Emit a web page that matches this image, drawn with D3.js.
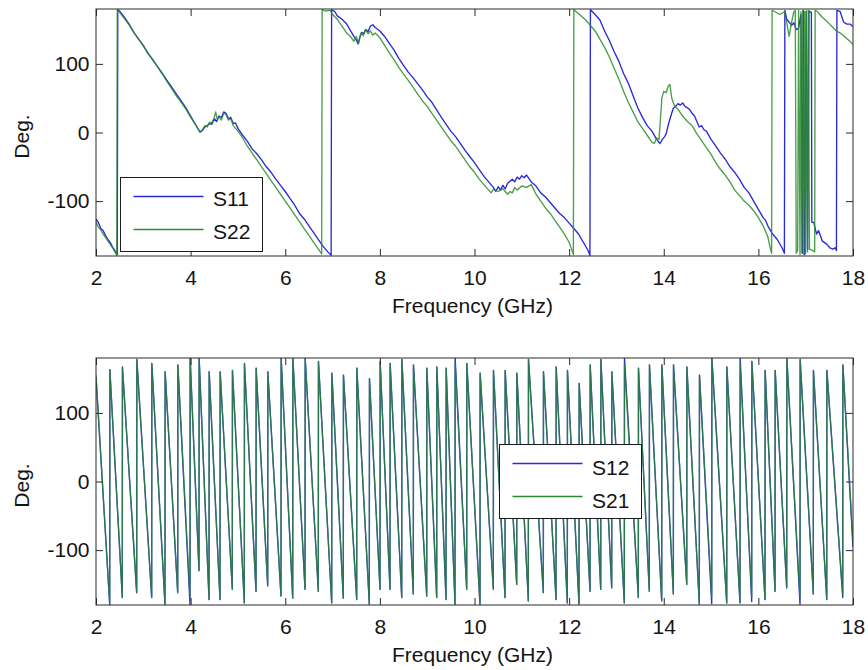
<!DOCTYPE html>
<html>
<head>
<meta charset="utf-8">
<script src="https://cdn.jsdelivr.net/npm/d3@7"></script>
<style>
  body { margin: 0; background: #fff; }
  svg { display: block; }
  text { font-family: "Liberation Sans", Arial, sans-serif; fill: #141414; }
</style>
</head>
<body>
<svg id="chart" width="868" height="670"></svg>
<script>
// ---- axis ticks ----
const freqTicks = [2, 4, 6, 8, 10, 12, 14, 16, 18];
const degTicks = [-100, 0, 100];

// ---- reflection phase, [frequency GHz, degrees] ----
const s11 = [
  [2.00,-126],[2.05,-131],[2.10,-140],[2.15,-143],[2.20,-150],[2.25,-156],[2.30,-160],[2.35,-167],[2.40,-172],[2.45,-178],
  [2.46,179],[2.50,177],[2.60,168],[2.70,158],[2.80,146],[2.90,136],[3.00,127],[3.10,115],[3.20,106],[3.30,96],
  [3.40,86],[3.50,76],[3.60,66],[3.70,56],[3.80,46],[3.90,36],[4.00,24],[4.10,12],[4.15,6],[4.20,1],
  [4.25,3],[4.30,8],[4.35,10],[4.40,13],[4.45,12],[4.50,20],[4.55,16],[4.60,24],[4.65,22],[4.70,30],
  [4.75,28],[4.80,20],[4.85,22],[4.90,13],[4.95,14],[5.00,6],[5.10,-4],[5.20,-13],[5.30,-24],[5.40,-31],
  [5.50,-40],[5.60,-50],[5.70,-58],[5.80,-68],[5.90,-77],[6.00,-86],[6.10,-96],[6.20,-106],[6.30,-118],[6.40,-126],
  [6.50,-136],[6.60,-146],[6.70,-156],[6.80,-166],[6.90,-174],[6.97,-179],[6.98,179],[7.05,176],[7.10,170],[7.20,165],
  [7.30,158],[7.40,146],[7.45,140],[7.50,135],[7.54,129],[7.58,140],[7.62,146],[7.66,144],[7.70,150],[7.75,147],
  [7.80,155],[7.85,157],[7.90,153],[8.00,148],[8.10,140],[8.20,130],[8.30,120],[8.40,108],[8.50,98],[8.60,88],
  [8.70,80],[8.80,71],[8.90,62],[9.00,52],[9.10,44],[9.20,33],[9.30,22],[9.40,12],[9.50,2],[9.60,-6],
  [9.70,-16],[9.80,-26],[9.90,-35],[10.00,-44],[10.10,-54],[10.20,-64],[10.30,-72],[10.40,-80],[10.45,-86],[10.50,-79],
  [10.55,-84],[10.60,-77],[10.65,-82],[10.70,-74],[10.80,-68],[10.85,-72],[10.90,-65],[10.95,-68],[11.00,-63],[11.05,-66],
  [11.10,-62],[11.20,-72],[11.30,-78],[11.40,-88],[11.50,-94],[11.60,-102],[11.70,-110],[11.80,-118],[11.90,-124],[12.00,-132],
  [12.10,-140],[12.20,-148],[12.30,-160],[12.40,-172],[12.44,-179],[12.45,179],[12.55,172],[12.65,164],[12.75,148],[12.85,134],
  [12.95,118],[13.05,104],[13.15,86],[13.25,72],[13.35,54],[13.45,36],[13.55,22],[13.65,10],[13.75,2],[13.85,-10],
  [13.92,-16],[13.97,-10],[14.02,-6],[14.05,-2],[14.10,12],[14.15,24],[14.20,35],[14.25,38],[14.30,42],[14.35,40],
  [14.40,43],[14.45,38],[14.50,36],[14.55,33],[14.60,28],[14.65,24],[14.70,16],[14.75,8],[14.80,10],[14.85,4],
  [14.90,2],[15.00,-10],[15.10,-20],[15.20,-30],[15.30,-39],[15.40,-50],[15.50,-58],[15.60,-68],[15.70,-80],[15.80,-88],
  [15.90,-100],[16.00,-112],[16.10,-124],[16.15,-128],[16.20,-136],[16.30,-148],[16.40,-156],[16.50,-168],[16.55,-176],[16.56,178],
  [16.60,165],[16.66,160],[16.70,156],[16.75,160],[16.80,150],[16.85,152],[16.90,172],[16.93,-176],[16.95,178],[16.98,-178],
  [17.01,176],[17.04,-170],[17.07,177],[17.12,175],[17.13,-131],[17.17,-131],[17.23,-148],[17.27,-143],[17.30,-148],[17.35,-158],
  [17.45,-163],[17.51,-168],[17.58,-170],[17.62,-168],[17.65,-172],[17.66,178],[17.73,176],[17.80,161],[17.87,158],[17.94,158],
  [18.00,154]
];

const s22 = [
  [2.00,-130],[2.05,-138],[2.10,-142],[2.15,-148],[2.20,-153],[2.25,-158],[2.30,-163],[2.35,-168],[2.40,-174],[2.44,-179],
  [2.45,179],[2.50,175],[2.60,166],[2.70,157],[2.80,146],[2.90,136],[3.00,126],[3.10,116],[3.20,106],[3.30,96],
  [3.40,86],[3.50,74],[3.60,64],[3.70,53],[3.80,44],[3.90,34],[4.00,22],[4.10,12],[4.15,6],[4.20,0],
  [4.25,4],[4.30,10],[4.35,8],[4.40,15],[4.45,14],[4.50,22],[4.53,30],[4.56,20],[4.60,22],[4.65,18],
  [4.70,28],[4.75,26],[4.80,18],[4.85,20],[4.90,10],[5.00,2],[5.10,-8],[5.20,-20],[5.30,-30],[5.40,-40],
  [5.50,-50],[5.60,-60],[5.70,-70],[5.80,-80],[5.90,-90],[6.00,-100],[6.10,-110],[6.20,-120],[6.30,-130],[6.40,-140],
  [6.50,-150],[6.60,-160],[6.70,-170],[6.77,-177],[6.78,179],[6.85,177],[6.95,178],[7.00,172],[7.10,165],[7.20,155],
  [7.30,145],[7.40,138],[7.45,133],[7.50,140],[7.55,130],[7.60,145],[7.65,141],[7.70,150],[7.75,144],[7.80,148],
  [7.85,142],[7.90,145],[8.00,138],[8.10,127],[8.20,116],[8.30,106],[8.40,95],[8.50,85],[8.60,76],[8.70,66],
  [8.80,56],[8.90,46],[9.00,38],[9.10,28],[9.20,18],[9.30,8],[9.40,-2],[9.50,-12],[9.60,-20],[9.70,-30],
  [9.80,-40],[9.90,-50],[10.00,-58],[10.10,-68],[10.20,-76],[10.30,-84],[10.35,-88],[10.40,-83],[10.50,-86],[10.60,-82],
  [10.70,-90],[10.75,-86],[10.80,-88],[10.85,-80],[10.90,-84],[11.00,-78],[11.10,-80],[11.20,-76],[11.30,-90],[11.40,-100],
  [11.50,-110],[11.60,-118],[11.70,-128],[11.80,-138],[11.90,-148],[12.00,-160],[12.05,-170],[12.09,-178],[12.10,179],[12.15,176],
  [12.25,170],[12.35,164],[12.45,156],[12.55,148],[12.65,136],[12.75,124],[12.85,110],[12.95,94],[13.05,78],[13.15,60],
  [13.25,44],[13.35,30],[13.45,16],[13.55,6],[13.65,-4],[13.75,-14],[13.80,-16],[13.85,-8],[13.90,-10],[13.93,20],
  [13.96,50],[14.00,60],[14.05,58],[14.10,68],[14.13,70],[14.17,50],[14.22,40],[14.30,34],[14.40,24],[14.50,16],
  [14.60,10],[14.70,-2],[14.80,-12],[14.90,-22],[15.00,-32],[15.10,-44],[15.20,-54],[15.30,-62],[15.40,-72],[15.50,-84],
  [15.60,-92],[15.70,-100],[15.80,-106],[15.90,-114],[16.00,-124],[16.10,-136],[16.20,-152],[16.25,-168],[16.28,-176],[16.29,178],
  [16.35,176],[16.45,172],[16.55,176],[16.60,160],[16.65,140],[16.70,160],[16.75,176],[16.78,178],[16.80,-176],[16.83,-172],
  [16.85,178],[16.88,-178],[16.90,176],[16.92,-175],[16.94,178],[16.96,-178],[16.98,177],[17.00,-176],[17.02,178],[17.04,-174],
  [17.06,178],[17.08,-170],[17.15,-172],[17.19,-174],[17.20,178],[17.25,176],[17.35,168],[17.45,162],[17.55,155],[17.65,148],
  [17.75,144],[17.85,138],[17.95,132],[18.00,128]
];

// ---- transmission phase: wrap frequencies (GHz), peak after each wrap, trough before it ----
const wrapFreq = [
  2.290, 2.556, 2.860, 3.177, 3.458, 3.727, 3.987, 4.177, 4.389, 4.621,
  4.881, 5.135, 5.382, 5.629, 5.910, 6.158, 6.418, 6.699, 6.982, 7.227,
  7.510, 7.777, 8.003, 8.214, 8.462, 8.707, 8.990, 9.201, 9.398, 9.588,
  9.835, 10.116, 10.398, 10.645, 10.892, 11.138, 11.455, 11.723, 11.962, 12.209,
  12.442, 12.668, 12.900, 13.167, 13.463, 13.695, 13.957, 14.203, 14.486, 14.752,
  15.014, 15.331, 15.612, 15.859, 16.140, 16.352, 16.599, 16.880, 17.161, 17.445,
  17.783
];
const s12Start = 152, s12End = -96;
const s12Peak = [
  163,167,178,172,160,170,180,180,160,160,162,172,165,160,180,180,180,175,158,155,
  165,150,175,172,178,170,165,167,165,180,172,158,162,162,158,178,160,167,162,143,
  170,178,160,180,165,170,170,170,167,155,180,167,180,175,162,162,180,178,162,162,
  170
];
const s12Trough = [
  -179,-169,-162,-169,-179,-162,-179,-130,-172,-172,-157,-177,-160,-152,-167,-170,-157,-160,-177,-170,
  -172,-179,-157,-157,-169,-164,-167,-169,-172,-179,-157,-179,-157,-169,-150,-174,-162,-172,-177,-179,
  -160,-157,-155,-177,-169,-160,-174,-164,-150,-179,-178,-177,-177,-175,-172,-160,-155,-179,-164,-172,
  -169
];
const s21Start = 155, s21End = -88;
const s21Peak = [
  163,167,178,172,160,170,180,180,160,160,162,172,165,160,180,180,180,175,158,155,
  165,150,175,172,178,170,165,167,165,172,172,158,162,162,158,178,160,167,162,143,
  170,178,160,171,165,170,170,170,167,155,180,167,172,175,162,162,180,178,162,162,
  170
];
const s21Trough = [
  -179,-169,-162,-169,-179,-162,-168,-130,-172,-172,-157,-177,-160,-152,-167,-170,-157,-160,-177,-170,
  -172,-179,-157,-157,-169,-164,-167,-169,-172,-179,-157,-179,-157,-169,-150,-174,-162,-172,-177,-179,
  -160,-157,-155,-177,-169,-160,-174,-164,-150,-179,-168,-177,-177,-168,-172,-160,-155,-170,-164,-172,
  -165
];

const BLUE = "#2a2ad6";
const GREEN = "#2b8c2b";

// Build a wrapped phase trace from its wrap points.
function wrappedTrace(start, peaks, troughs, end) {
  const pts = [[2, start]];
  wrapFreq.forEach((f, i) => {
    pts.push([f, troughs[i]]);
    pts.push([f + 0.003, peaks[i]]);
  });
  pts.push([18, end]);
  return pts;
}
const s12 = wrappedTrace(s12Start, s12Peak, s12Trough, s12End);
const s21 = wrappedTrace(s21Start, s21Peak, s21Trough, s21End);

const svg = d3.select("#chart");
const left = 96, right = 853, plotH = 247;

function drawPanel(top, id, series, legend) {
  const x = d3.scaleLinear().domain([2, 18]).range([left, right]);
  const y = d3.scaleLinear().domain([-180, 180]).range([top + plotH, top]);
  const g = svg.append("g");

  g.append("clipPath").attr("id", id)
    .append("rect").attr("x", left).attr("y", top).attr("width", right - left).attr("height", plotH);

  const line = d3.line().x(d => x(d[0])).y(d => y(d[1]));
  const lines = g.append("g").attr("clip-path", `url(#${id})`);
  series.forEach(s => {
    lines.append("path").datum(s.data)
      .attr("fill", "none")
      .attr("stroke", s.color)
      .attr("stroke-width", 1.35)
      .attr("stroke-opacity", s.opacity)
      .attr("stroke-linejoin", "round")
      .attr("d", line);
  });

  const axisColor = "#2a2a2a";
  const styleAxis = sel => {
    sel.select(".domain").remove();
    sel.selectAll(".tick line").attr("stroke", axisColor);
    sel.selectAll("text").attr("font-size", 21).attr("fill", "#141414")
      .style("font-family", "'Liberation Sans', Arial, sans-serif");
  };
  const plain = d => String(d);

  g.append("g").attr("transform", `translate(0,${top + plotH})`)
    .call(d3.axisBottom(x).tickValues(freqTicks).tickFormat(plain).tickSizeInner(-7).tickSizeOuter(0).tickPadding(14))
    .call(styleAxis);
  g.append("g").attr("transform", `translate(0,${top})`)
    .call(d3.axisTop(x).tickValues(freqTicks).tickSizeInner(-7).tickSizeOuter(0).tickFormat(""))
    .call(styleAxis);
  g.append("g").attr("transform", `translate(${left},0)`)
    .call(d3.axisLeft(y).tickValues(degTicks).tickFormat(plain).tickSizeInner(-7).tickSizeOuter(0).tickPadding(6.5))
    .call(styleAxis);
  g.append("g").attr("transform", `translate(${right},0)`)
    .call(d3.axisRight(y).tickValues(degTicks).tickSizeInner(-7).tickSizeOuter(0).tickFormat(""))
    .call(styleAxis);

  g.append("rect").attr("x", left).attr("y", top).attr("width", right - left).attr("height", plotH)
    .attr("fill", "none").attr("stroke", axisColor).attr("stroke-width", 1);

  g.append("text").attr("transform", `translate(28.5,${top + plotH / 2 + 4}) rotate(-90)`)
    .attr("text-anchor", "middle").attr("font-size", 21).text("Deg.");
  g.append("text").attr("x", (left + right) / 2 - 2).attr("y", top + plotH + 57)
    .attr("text-anchor", "middle").attr("font-size", 21).text("Frequency (GHz)");

  // legend
  const lg = g.append("g").attr("transform", `translate(${legend.x},${legend.y})`);
  lg.append("rect").attr("width", 142).attr("height", 74)
    .attr("fill", "#fff").attr("stroke", "#1a1a1a").attr("stroke-width", 1);
  series.forEach((s, i) => {
    const ly = 19 + i * 33;
    lg.append("line").attr("x1", 13).attr("x2", 83).attr("y1", ly).attr("y2", ly)
      .attr("stroke", s.color).attr("stroke-width", 1.35);
    lg.append("text").attr("x", 92.5).attr("y", ly + legend.textDy)
      .attr("font-size", 21).text(s.name);
  });
}

drawPanel(9, "clipTop", [
  { name: "S11", data: s11, color: BLUE, opacity: 1 },
  { name: "S22", data: s22, color: GREEN, opacity: 0.85 }
], { x: 120.5, y: 177.5, textDy: 9.8 });

drawPanel(358, "clipBottom", [
  { name: "S12", data: s12, color: BLUE, opacity: 1 },
  { name: "S21", data: s21, color: GREEN, opacity: 0.78 }
], { x: 499.5, y: 444.5, textDy: 11 });
</script>
</body>
</html>
